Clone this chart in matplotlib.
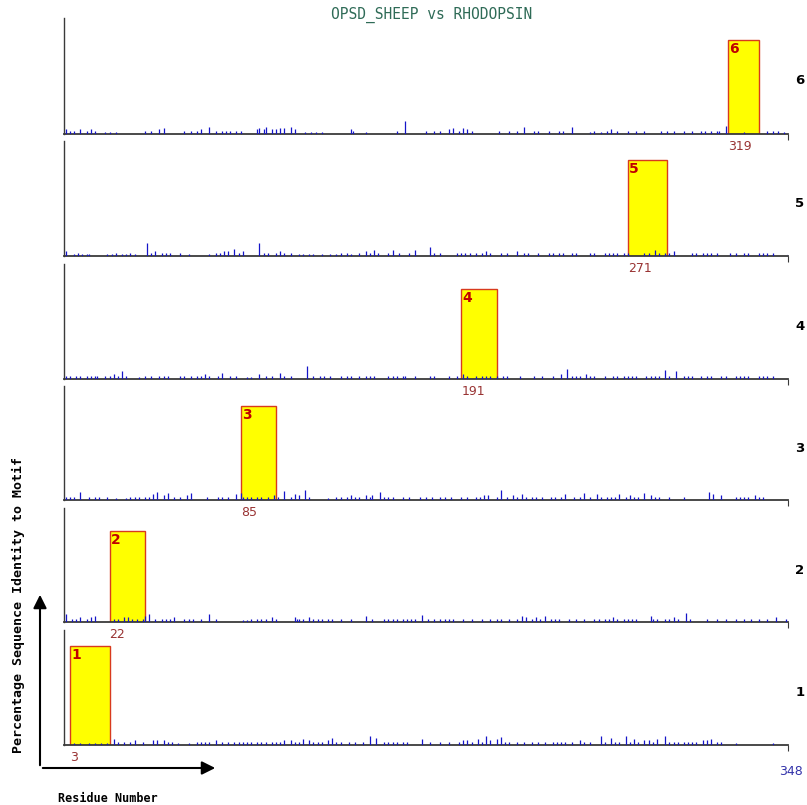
import matplotlib
matplotlib.use("Agg")
import matplotlib.pyplot as plt

# ---------------- data ----------------
title = "OPSD_SHEEP vs RHODOPSIN"
seq_length = 348
motif_ids = [1, 2, 3, 4, 5, 6]
motif_starts = [3, 22, 85, 191, 271, 319]
motif_lengths = [19, 17, 17, 17, 19, 15]
motif_identity = [86, 80, 82.5, 78, 83.5, 81]   # % identity of the best match

# background identity spikes (residue, % identity) for every motif scan
spikes1 = [(5,2),(8,2),(12,2),(15,2),(18,2),(21,2),
           (24,5),(26,3),(29,3),(32,3),(34,4),(38,3),(43,4),(45,4),(48,4),(50,3),(52,3),(55,2),
           (60,2),(64,3),(66,3),(68,3),(70,3),(73,4),(76,3),(79,3),(82,3),(84,3),(86,3),(88,3),
           (90,3),(93,3),(95,3),(97,3),(100,3),(102,3),(104,3),(106,4),(109,4),(111,3),(113,3),
           (115,5),(118,4),(120,3),(122,3),(124,3),(127,4),(129,6),(131,3),(133,3),(137,3),(140,3),
           (144,3),(147,8),(150,6),(154,3),(156,3),(158,3),(160,3),(163,3),(165,3),(172,5),(176,3),
           (181,3),(185,3),(190,3),(192,4),(194,4),(196,3),(199,5),(201,3),(203,8),(205,4),(208,5),
           (210,7),(212,3),(214,3),(218,3),(221,3),(225,3),(228,3),(231,3),(235,3),(237,3),(239,3),
           (241,3),(244,3),(248,4),(250,3),(253,3),(258,8),(260,3),(263,6),(265,3),(267,3),(270,8),
           (272,3),(274,5),(276,3),(279,4),(281,4),(283,3),(285,5),(289,8),(291,3),(293,3),(295,3),
           (298,3),(300,3),(302,3),(304,3),(307,4),(309,4),(311,5),(314,3),(316,3),(323,2),(341,2)]
spikes2 = [(1,7),(4,3),(6,3),(8,4),(11,3),(13,4),(15,5),(24,3),(26,3),(29,4),(31,4),(33,3),(35,3),
           (38,3),(39,5),(41,7),(44,3),(47,3),(49,3),(51,3),(53,4),(58,3),(60,3),(62,3),(66,3),(70,7),
           (73,3),(86,2),(88,2),(90,3),(93,3),(95,3),(97,3),(100,4),(102,3),(111,4),(112,3),
           (113,3),(115,3),(118,4),(120,3),(122,3),(124,3),(127,3),(129,3),(133,3),(138,3),(145,5),
           (148,3),(154,3),(156,3),(158,3),(160,3),(163,3),(165,3),(167,3),(169,3),(172,6),(175,3),
           (178,3),(181,3),(183,3),(185,3),(187,3),(192,3),(196,3),(201,3),(205,3),(208,3),(210,3),
           (214,3),(218,3),(220,5),(222,4),(225,3),(227,4),(229,3),(231,5),(234,3),(236,3),(238,3),
           (243,3),(246,3),(250,3),(255,3),(257,3),(260,3),(262,3),(264,4),(266,3),(269,3),(271,3),
           (273,3),(275,3),(282,5),(283,3),(285,3),(289,3),(291,3),(293,4),(295,3),(299,8),(301,3),
           (309,3),(314,3),(318,3),(323,3),(327,3),(330,3),(334,3),(338,3),(342,4),(347,3)]
spikes3 = [(1,3),(3,3),(5,3),(8,7),(12,3),(15,3),(17,3),(21,3),(25,2),(30,2),(32,3),(34,3),
           (36,3),(39,3),(41,3),(43,5),(45,7),(48,4),(50,6),(53,3),(56,3),(59,4),(61,6),(69,3),(74,3),
           (76,3),(79,3),(83,5),(85,6),(86,3),(88,3),(90,3),(93,3),(95,3),(98,3),(101,4),(103,3),
           (106,8),(109,3),(111,5),(113,4),(116,9),(118,3),(127,2),(131,3),(133,3),(136,3),(138,4),
           (140,3),(142,3),(145,4),(147,3),(148,4),(152,7),(154,3),(156,3),(158,3),(163,3),(166,3),
           (171,3),(174,3),(177,3),(181,3),(183,3),(186,3),(191,3),(194,3),(198,3),(200,3),(202,4),
           (204,4),(208,3),(210,9),(213,3),(216,4),(218,3),(220,5),(222,3),(225,3),(227,3),(230,3),
           (234,3),(236,3),(239,3),(241,5),(245,3),(248,3),(250,6),(253,3),(256,5),(258,3),(261,3),
           (263,3),(265,3),(267,5),(270,3),(272,4),(274,3),(276,3),(279,6),(282,4),(284,3),(286,3),
           (291,3),(298,3),(310,7),(312,5),(316,4),(323,3),(325,3),(327,3),(329,3),(332,4),(334,3),(336,3)]
spikes4 = [(1,3),(3,3),(6,3),(8,3),(11,3),(13,3),(15,3),(16,3),(20,3),(22,3),(24,4),(26,3),(28,7),
           (30,3),(36,2),(39,3),(42,3),(46,3),(48,3),(50,3),(56,3),(58,3),(61,3),(64,3),(66,3),(68,4),
           (70,3),(74,3),(76,5),(80,3),(83,3),(88,2),(90,2),(94,4),(97,3),(100,3),(104,5),(106,3),
           (109,3),(117,11),(120,3),(123,3),(125,3),(128,3),(133,3),(136,3),(138,3),(142,3),(145,3),
           (147,3),(149,3),(156,3),(158,3),(160,3),(163,3),(164,3),(169,3),(176,3),(178,3),(185,3),
           (189,3),(192,4),(194,3),(198,3),(201,3),(203,3),(205,3),(208,3),(211,3),(213,3),(219,3),
           (226,3),(230,3),(235,3),(239,4),(242,9),(244,3),(246,3),(248,3),(251,4),(253,3),(255,3),
           (260,3),(264,3),(266,3),(269,3),(271,3),(273,3),(275,3),(280,3),(282,3),(284,3),(286,3),
           (289,8),(291,3),(294,7),(298,3),(300,3),(302,3),(306,3),(309,3),(311,3),(316,3),(318,3),
           (323,3),(325,3),(327,3),(329,3),(334,3),(336,3),(338,3),(341,3)]
spikes5 = [(1,4),(5,2),(7,3),(9,2),(11,2),(12,2),(21,2),(23,2),(25,3),(28,2),(30,2),
           (32,3),(34,2),(40,11),(42,3),(44,4),(47,3),(49,3),(51,3),(56,3),(60,2),(70,2),(73,3),
           (75,3),(77,4),(79,4),(82,6),(84,3),(86,4),(94,11),(96,3),(98,3),(102,3),(104,4),(106,3),
           (109,3),(113,2),(115,2),(118,2),(120,2),(124,2),(128,2),(131,2),(133,3),
           (136,3),(138,2),(142,3),(145,4),(147,3),(149,5),(151,3),(156,3),(158,5),(161,3),(166,3),
           (169,5),(176,8),(178,3),(181,3),(189,3),(191,3),(193,3),(195,3),(198,3),(201,3),(203,4),
           (205,3),(210,3),(213,3),(218,4),(221,3),(223,3),(228,3),(233,3),(235,3),(238,3),(240,3),
           (244,3),(246,3),(253,3),(255,3),(260,3),(262,3),(264,3),(266,3),(269,3),(271,3),(279,3),
           (281,3),(284,5),(286,3),(289,3),(291,3),(293,4),(302,3),(304,3),(307,3),(309,3),(311,3),
           (314,3),(320,3),(323,3),(327,3),(329,3),(334,3),(336,3),(338,3),(341,3),(348,2)]
spikes6 = [(1,4),(3,3),(5,3),(8,4),(11,3),(13,4),(15,3),(20,2),(22,2),(25,2),(39,3),(42,3),
           (46,4),(48,5),(58,3),(61,3),(64,3),(66,4),(70,6),(73,3),(76,3),(78,3),(80,3),(83,3),(85,3),
           (93,4),(94,5),(96,4),(97,6),(100,4),(102,4),(104,5),(106,5),(109,6),(111,4),(116,2),
           (119,2),(121,2),(124,2),(138,4),(139,3),(145,2),(160,3),(164,11),(174,3),(178,3),
           (181,3),(185,4),(187,5),(190,3),(192,5),(194,4),(196,3),(209,3),(214,3),(218,3),(221,6),
           (226,3),(228,3),(233,3),(238,3),(240,3),(244,6),(253,2),(255,3),(258,2),(261,3),
           (263,4),(266,3),(271,3),(275,3),(279,3),(287,3),(290,3),(293,3),(298,3),(302,3),(306,3),
           (308,3),(311,3),(314,3),(315,3),(318,7),(327,2),(338,3),(341,3),(343,3),(346,2)]
spikes = [spikes1, spikes2, spikes3, spikes4, spikes5, spikes6]

# ---------------- layout ----------------
W, H = 807, 805
fig = plt.figure(figsize=(W / 100, H / 100), dpi=100)
fig.patch.set_facecolor("white")

def fx(x):
    return x / W

def fy(y):
    return 1 - y / H

# (top, baseline) pixel rows for panels 1..6
panel_rows = [(630, 745), (508, 622), (386, 500), (264, 379), (141, 256), (18, 134)]
x_left, x_right = 63.75, 788

mono = "DejaVu Sans Mono"
spike_color = "#1515c8"
box_face = "#ffff00"
box_edge = "#d83a1e"
axis_color = "#3a3a3a"

for i, (top, base) in enumerate(panel_rows):
    ax = fig.add_axes([fx(x_left), fy(base), (x_right - x_left) / W, (base - top) / H])
    ax.set_xlim(0, seq_length)
    ax.set_ylim(0, 100)
    for s in ("top", "right"):
        ax.spines[s].set_visible(False)
    ax.spines["left"].set_color(axis_color)
    ax.spines["bottom"].set_color(axis_color)
    ax.spines["left"].set_linewidth(1.0)
    ax.spines["bottom"].set_linewidth(1.3)
    ax.set_yticks([])
    ax.set_xticks([seq_length])
    ax.tick_params(axis="x", length=4, direction="out", labelbottom=False, color=axis_color)
    ax.patch.set_alpha(0)

    st, ln, hh = motif_starts[i], motif_lengths[i], motif_identity[i]
    ax.bar(st, hh, width=ln, align="edge", color=box_face, edgecolor=box_edge,
           linewidth=1.0, zorder=1)
    pos = [p for p, _ in spikes[i]]
    hts = [h for _, h in spikes[i]]
    ax.vlines(pos, 0, hts, color=spike_color, linewidth=0.9, zorder=3)

    ax.text(st + 0.7, hh - 1.5, str(motif_ids[i]), ha="left", va="top", color="#c00000",
            fontsize=10, fontweight="bold", zorder=4)
    ax.text(st, -5, str(st), ha="left", va="top", color="#993333", fontsize=9,
            clip_on=False)

    fig.text(fx(800), fy((top + base) / 2 + 5), str(motif_ids[i]), ha="center", va="center",
             fontsize=9.5, fontweight="bold", color="black")

# right-end residue count
fig.text(fx(791), fy(771), str(seq_length), ha="center", va="center", color="#3333aa", fontsize=9)

# title
fig.text(fx(432), fy(15), title, ha="center", va="center", color="#2f6b57",
         fontsize=10.5, family=mono)

# axis arrows
fig.add_artist(matplotlib.patches.FancyArrowPatch(
    (fx(40), fy(768)), (fx(40), fy(592)), transform=fig.transFigure,
    arrowstyle="-|>", mutation_scale=20, color="black", linewidth=1.5))
fig.add_artist(matplotlib.patches.FancyArrowPatch(
    (fx(40), fy(768)), (fx(218), fy(768)), transform=fig.transFigure,
    arrowstyle="-|>", mutation_scale=20, color="black", linewidth=1.5))

fig.text(fx(18), fy(605), "Percentage Sequence Identity to Motif", rotation=90,
         ha="center", va="center", fontsize=9.5, fontweight="bold", family=mono)
fig.text(fx(58), fy(798), "Residue Number", ha="left", va="center",
         fontsize=8.5, fontweight="bold", family=mono)

fig.savefig("out.png", dpi=100)
